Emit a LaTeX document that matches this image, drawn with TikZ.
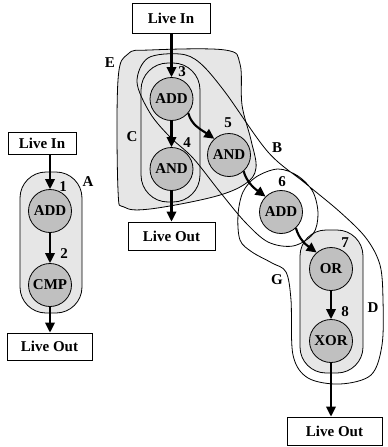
\documentclass[tikz,border=0pt]{standalone}
\usepackage{fontspec}
\setmainfont{Liberation Serif}
\usetikzlibrary{arrows.meta}
\definecolor{opgray}{RGB}{192,192,192}
\definecolor{rgngray}{RGB}{230,230,230}
\tikzset{
  txt/.style={font=\fontsize{15}{18}\selectfont\bfseries},
  iobox/.style={draw,line width=0.8pt,inner sep=0pt,txt},
  op/.style={circle,draw,line width=0.8pt,fill=opgray,minimum size=43pt,inner sep=0pt,txt},
  arr/.style={line width=2.1pt,-{Triangle[length=10pt,width=9.5pt]}},
  rgn/.style={line width=0.8pt},
  lbl/.style={inner sep=0pt,txt}
}
\begin{document}
\begin{tikzpicture}[x=1pt,y=-1pt]
\useasboundingbox (0,0) rectangle (388,447);
% grey regions
\draw[rgn,fill=rgngray,rounded corners=26pt] (20,172) rectangle (82,313);
\draw[rgn,fill=rgngray] plot[smooth cycle,tension=0.6] coordinates {(118,190) (118,80) (128,54) (150,50) (225,50) (240,64) (242,105) (251,140) (256,168) (245,184) (213,197) (150,209) (124,207)};
\draw[rgn,fill=rgngray,rounded corners=26pt] (300,230) rectangle (363,373);
% outline regions
\draw[rgn,rounded corners=27pt] (141,63) rectangle (200,202);
% B and G: one self-crossing outline
\draw[rgn] plot[smooth cycle,tension=0.55] coordinates {(137,82) (148,58) (180,54) (200,63) (225,92) (268,152) (305,183) (340,212) (366,238) (380,265) (383,300) (382,345) (371,375) (340,384) (308,378) (293,355) (291,300) (286,272) (272,263) (252,252) (240,240) (238,215) (243,192) (256,177) (278,169) (298,176) (313,192) (318,214) (313,234) (293,246) (268,242) (245,222) (220,192) (193,158) (170,137) (150,113)};
% io boxes
\node[iobox,minimum width=68pt,minimum height=22pt] (in1) at (42,143) {Live In};
\node[iobox,minimum width=85pt,minimum height=27pt] (out1) at (49.5,346.5) {Live Out};
\node[iobox,minimum width=78pt,minimum height=30pt] (in2) at (171,18) {Live In};
\node[iobox,minimum width=87pt,minimum height=28pt] (out2) at (171.5,236) {Live Out};
\node[iobox,minimum width=95pt,minimum height=28pt] (out3) at (334.5,431) {Live Out};
% ops
\node[op] (n1) at (50,211) {ADD};
\node[op] (n2) at (50,285) {CMP};
\node[op] (n3) at (171.5,99) {ADD};
\node[op] (n4) at (171.5,169) {AND};
\node[op] (n5) at (229,155) {AND};
\node[op] (n6) at (281,212) {ADD};
\node[op] (n7) at (331,269) {OR};
\node[op] (n8) at (331,341) {XOR};
% arrows
\draw[arr] (in1.south -| n1.north) -- (n1.north);
\draw[arr] (n1) -- (n2);
\draw[arr] (n2.south) -- (out1.north -| n2.south);
\draw[arr] (in2.south -| n3.north) -- (n3.north);
\draw[arr] (n3) -- (n4);
\draw[arr] (n4.south) -- (out2.north -| n4.south);
\draw[arr] (n7) -- (n8);
\draw[arr] (n8.south) -- (out3.north -| n8.south);
\draw[arr] (n3.-40) .. controls +(3,12) and +(-13,-9) .. (n5.132);
\draw[arr] (n5.-48) .. controls +(3,11) and +(-11,-8) .. (n6.135);
\draw[arr] (n6.-47) .. controls +(3,11) and +(-11,-8) .. (n7.131);
% number labels
\node[lbl] (l1) at (63,187) {1};
\node[lbl] (l2) at (64,254) {2};
\node[lbl] (l3) at (182,72) {3};
\node[lbl] (l4) at (187,143) {4};
\node[lbl] (l5) at (228,123) {5};
\node[lbl] (l6) at (282,182) {6};
\node[lbl] (l7) at (345,243) {7};
\node[lbl] (l8) at (345,312) {8};
% region labels
\node[lbl] (la) at (88,182) {A};
\node[lbl] (lb) at (277,148) {B};
\node[lbl] (lc) at (132,137) {C};
\node[lbl] (ld) at (373,308) {D};
\node[lbl] (le) at (110,63) {E};
\node[lbl] (lg) at (277,280) {G};
\end{tikzpicture}
\end{document}
